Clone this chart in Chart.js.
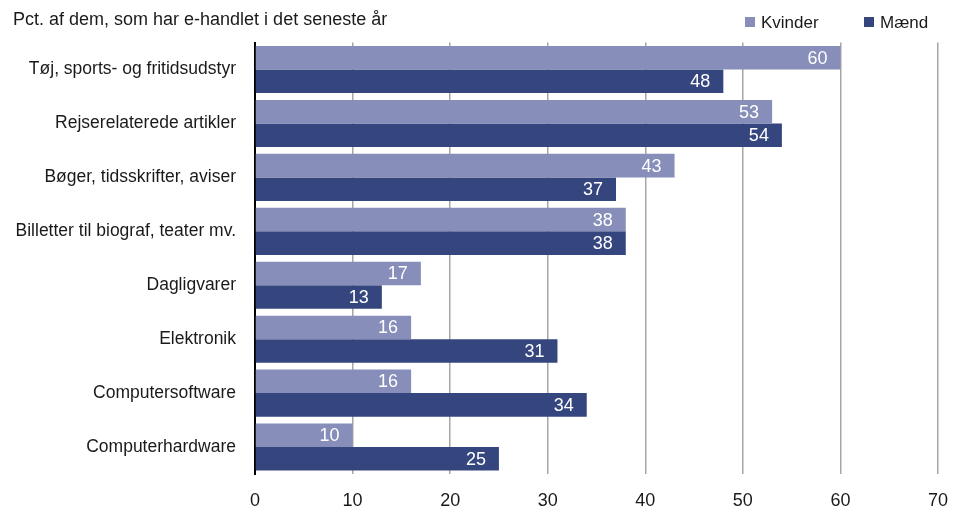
<!DOCTYPE html>
<html>
<head>
<meta charset="utf-8">
<script src="https://cdn.jsdelivr.net/npm/chart.js@4"></script>
<style>
html,body{margin:0;padding:0;background:#fff;}
#wrap{width:958px;height:519px;position:relative;}
</style>
</head>
<body>
<div id="wrap"><canvas id="c" width="958" height="519"></canvas></div>
<script>
const titleText = "Pct. af dem, som har e-handlet i det seneste år";
const categories = [
  "Tøj, sports- og fritidsudstyr",
  "Rejserelaterede artikler",
  "Bøger, tidsskrifter, aviser",
  "Billetter til biograf, teater mv.",
  "Dagligvarer",
  "Elektronik",
  "Computersoftware",
  "Computerhardware"
];
const seriesNames = ["Kvinder", "Mænd"];
const kvinder = [60, 53, 43, 38, 17, 16, 16, 10];
const maend = [48, 54, 37, 38, 13, 31, 34, 25];
const xTicks = [0, 10, 20, 30, 40, 50, 60, 70];

const FONT = "'Liberation Sans', Arial, sans-serif";
const colKvinder = "#868EB9";
const colMaend = "#35467F";
const textCol = "#1a1a1a";

const labelPlugin = {
  id: "barLabels",
  afterDatasetsDraw(chart) {
    const ctx = chart.ctx;
    ctx.save();
    ctx.font = "18px " + FONT;
    ctx.fillStyle = "#ffffff";
    ctx.textAlign = "right";
    ctx.textBaseline = "middle";
    chart.data.datasets.forEach((ds, i) => {
      const meta = chart.getDatasetMeta(i);
      meta.data.forEach((bar, j) => {
        ctx.fillText(String(ds.data[j]), bar.x - 13, bar.y + 1);
      });
    });
    ctx.restore();
  }
};

const legendPlugin = {
  id: "customLegend",
  afterDraw(chart) {
    const ctx = chart.ctx;
    ctx.save();
    ctx.font = "17px " + FONT;
    ctx.textBaseline = "middle";
    ctx.textAlign = "left";
    const starts = [745, 864];
    chart.data.datasets.forEach((ds, i) => {
      const x = starts[i];
      const y = 22;
      ctx.fillStyle = ds.backgroundColor;
      ctx.fillRect(x, y - 5, 10, 10);
      ctx.fillStyle = textCol;
      ctx.fillText(ds.label, x + 16, y + 1);
    });
    ctx.restore();
  }
};

new Chart(document.getElementById("c"), {
  type: "bar",
  data: {
    labels: categories,
    datasets: [
      { label: seriesNames[0], data: kvinder, backgroundColor: colKvinder, categoryPercentage: 0.873, barPercentage: 1.0 },
      { label: seriesNames[1], data: maend, backgroundColor: colMaend, categoryPercentage: 0.873, barPercentage: 1.0 }
    ]
  },
  options: {
    indexAxis: "y",
    responsive: false,
    animation: false,
    devicePixelRatio: 1,
    layout: { padding: { left: 13, right: 20, top: 0, bottom: 0 } },
    plugins: {
      legend: { display: false },
      tooltip: { enabled: false },
      title: {
        display: true,
        text: titleText,
        align: "start",
        color: textCol,
        font: { family: FONT, size: 18, weight: "normal" },
        padding: { top: 9, bottom: 12 }
      }
    },
    scales: {
      x: {
        min: 0,
        max: 70,
        afterBuildTicks(scale) { scale.ticks = xTicks.map(v => ({ value: v })); },
        afterFit(scale) { scale.height = 45; scale.paddingRight = 0; scale.paddingLeft = 0; },
        grid: { color: "#a6a6a6", lineWidth: 1.5, drawTicks: false },
        border: { display: false },
        ticks: { color: textCol, font: { family: FONT, size: 18 }, padding: 16, maxRotation: 0 }
      },
      y: {
        afterFit(scale) { scale.width = 242; },
        grid: { display: false, drawTicks: false },
        border: { display: true, color: "#000000", width: 2 },
        ticks: { color: textCol, font: { family: FONT, size: 17.5 }, padding: 19, autoSkip: false }
      }
    }
  },
  plugins: [labelPlugin, legendPlugin]
});
</script>
</body>
</html>
